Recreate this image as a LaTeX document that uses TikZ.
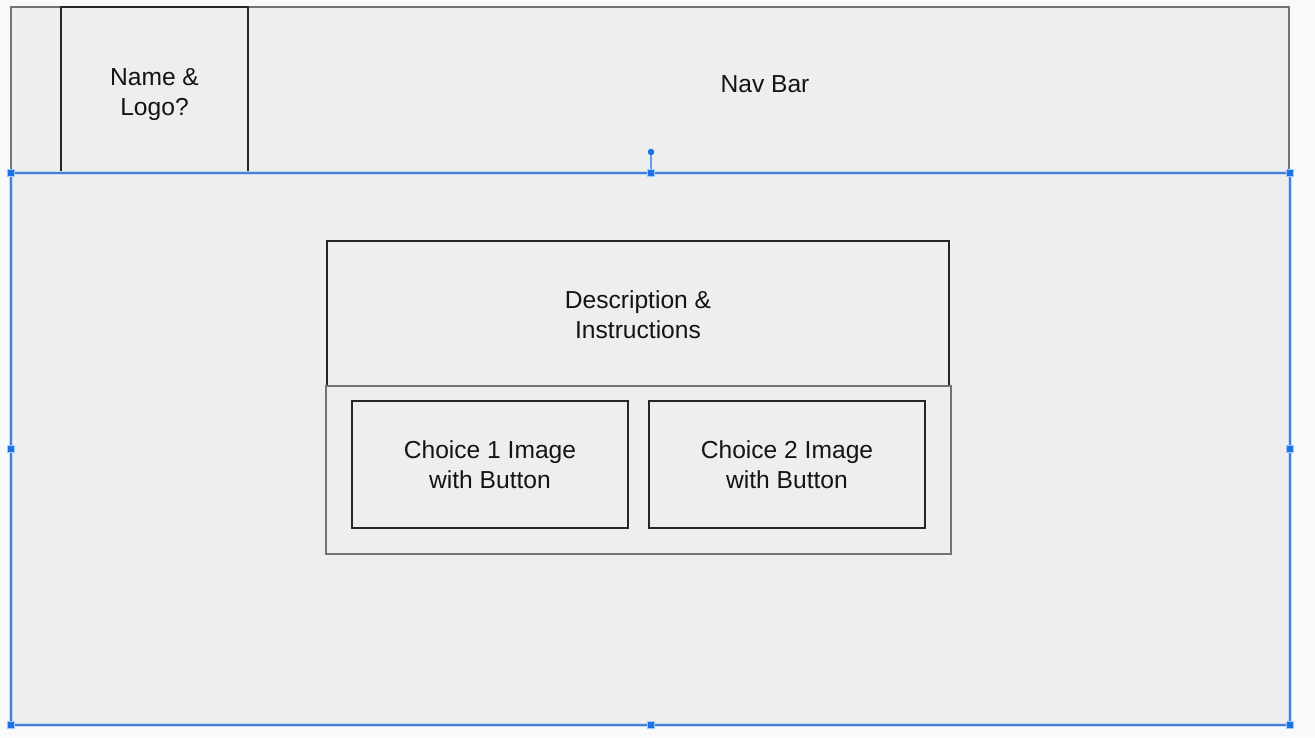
\documentclass[tikz,border=0pt]{standalone}
\usepackage{fontspec}
\setmainfont{Liberation Sans}
\definecolor{pagebg}{HTML}{F8F9FA}
\definecolor{shapefill}{HTML}{EEEEEE}
\definecolor{selblue}{HTML}{4A7FD6}
\definecolor{selhalo}{HTML}{C6DAF8}
\definecolor{handleblue}{HTML}{1A73E8}
\tikzset{
	panel/.style={draw=black!55, fill=shapefill, line width=1.3pt},
	box/.style={draw=black!85, fill=shapefill, line width=1.1pt},
	txt/.style={font=\fontsize{24.6}{30}\selectfont, align=center, text=black!92},
	selhandle/.style={rectangle, fill=handleblue, draw=handleblue!40, line width=0.8pt, minimum size=7.5pt, inner sep=0pt},
	knob/.style={circle, fill=handleblue, minimum size=6.5pt, inner sep=0pt},
}
\begin{document}
\begin{tikzpicture}[x=1pt,y=-1pt]
		\fill[pagebg] (0,0) rectangle (1315,737);
		\useasboundingbox (0,0) rectangle (1315,737);
		%--nav bar
		\draw[panel] (11,7) rectangle (1289,173);
		\draw[box] (61,7) rectangle (248,173);
		\node[txt] (logo) at (154.5,95) {Name \&\\Logo?};
		\node[txt] (navbar) at (765,84) {Nav Bar};
		
		%--page body
		\fill[shapefill] (11,173) rectangle (1290,725);
		\draw[box] (327,241) rectangle (949,386);
		\node[txt] (desc) at (638,315) {Description \&\\Instructions};
		\draw[panel, line width=1.2pt] (326,386) rectangle (951,554);
		\draw[box] (352,401) rectangle (628,528);
		\node[txt] (choice1) at (490,465) {Choice 1 Image\\with Button};
		\draw[box] (649,401) rectangle (925,528);
		\node[txt] (choice2) at (787,465) {Choice 2 Image\\with Button};
		
		%--selection of the body
		\draw[selhalo, line width=4.5pt] (11,173) rectangle (1290,725);
		\draw[selblue, line width=1.8pt] (11,173) rectangle (1290,725);
		\foreach \hx/\hy [count=\i] in {11/173, 651/173, 1290/173, 11/449, 1290/449, 11/725, 651/725, 1290/725}
			\node[selhandle] (h\i) at (\hx,\hy) {};
		\node[knob] (rot) at (651,152) {};
		\draw[handleblue!70, line width=1.2pt] (rot) -- (h2);
	\end{tikzpicture}
\end{document}
